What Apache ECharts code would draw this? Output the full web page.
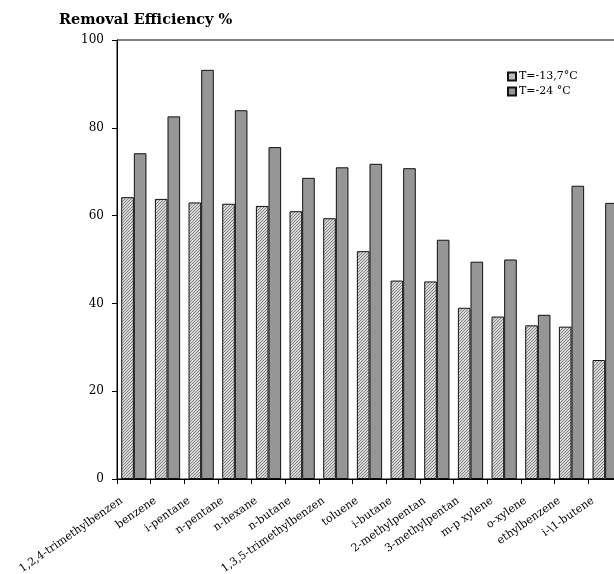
<!DOCTYPE html>
<html>
<head>
<meta charset="utf-8">
<script src="https://cdn.jsdelivr.net/npm/echarts@6/dist/echarts.min.js"></script>
<style>
  html, body { margin: 0; padding: 0; background: #fff; }
  #chart { width: 614px; height: 574px; }
</style>
</head>
<body>
<div id="chart"></div>
<script>
// Compounds on the category axis
var compounds = [
  '1,2,4-trimethylbenzen', 'benzene', 'i-pentane', 'n-pentane', 'n-hexane',
  'n-butane', '1,3,5-trimethylbenzen', 'toluene', 'i-butane', '2-methylpentan',
  '3-methylpentan', 'm-p xylene', 'o-xylene', 'ethylbenzene', 'i-\\1-butene'
];

// Removal efficiency (%) at each temperature
var effWarm = [64.2, 63.8, 63.0, 62.7, 62.2, 61.0, 59.4, 51.9, 45.2, 45.0, 39.0, 37.0, 35.0, 34.7, 27.1];
var effCold = [74.2, 82.6, 93.2, 84.0, 75.6, 68.6, 71.0, 71.8, 70.8, 54.5, 49.5, 50.0, 37.4, 66.8, 62.9];

var seriesNames = ['T=-13,7\u00B0C', 'T=-24 \u00B0C'];
var yTicks = { min: 0, max: 100, step: 20 };

// Diagonal hatch fill for the first series
function hatchPattern() {
  var c = document.createElement('canvas');
  c.width = 3; c.height = 3;
  var g = c.getContext('2d');
  g.fillStyle = '#d6d6d6';
  g.fillRect(0, 0, 3, 3);
  g.fillStyle = '#858585';
  // one-pixel diagonal running bottom-left to top-right
  g.fillRect(0, 2, 1, 1);
  g.fillRect(1, 1, 1, 1);
  g.fillRect(2, 0, 1, 1);
  return { image: c, repeat: 'repeat' };
}

var serif = 'DejaVu Serif';
var chart = echarts.init(document.getElementById('chart'), null, { renderer: 'canvas' });

chart.setOption({
  animation: false,
  backgroundColor: '#ffffff',
  title: {
    text: 'Removal Efficiency %',
    left: 54, top: 8,
    textStyle: { fontFamily: serif, fontWeight: 'bold', fontSize: 14.5, color: '#000' }
  },
  legend: {
    orient: 'vertical',
    left: 502, top: 66,
    itemWidth: 8, itemHeight: 8, itemGap: 4,
    icon: 'rect',
    textStyle: { fontFamily: serif, fontSize: 11, color: '#000', padding: [0, 0, 0, -2] },
    data: seriesNames
  },
  grid: {
    left: 117, top: 40, height: 439, width: 505,
    outerBoundsMode: 'none',
    containLabel: false,
    show: true, borderColor: '#000', borderWidth: 1, backgroundColor: 'transparent'
  },
  xAxis: {
    type: 'category',
    data: compounds,
    axisLine: { lineStyle: { color: '#000', width: 1 } },
    axisTick: { show: true, length: 5, lineStyle: { color: '#000' } },
    axisLabel: {
      interval: 0, rotate: 35, margin: 12,
      padding: [0, 15, 0, 0],
      fontFamily: serif, fontSize: 11, color: '#000'
    }
  },
  yAxis: {
    type: 'value',
    min: yTicks.min, max: yTicks.max, interval: yTicks.step,
    splitLine: { show: false },
    axisLine: { show: true, lineStyle: { color: '#000', width: 1 } },
    axisTick: { show: true, length: 5, lineStyle: { color: '#000' } },
    axisLabel: { margin: 13, fontFamily: serif, fontSize: 12, color: '#000' }
  },
  series: [
    {
      name: seriesNames[0], type: 'bar', data: effWarm,
      barGap: '0%', barCategoryGap: '25%',
      itemStyle: { color: hatchPattern(), borderColor: '#111', borderWidth: 1 }
    },
    {
      name: seriesNames[1], type: 'bar', data: effCold,
      barGap: '0%', barCategoryGap: '25%',
      itemStyle: { color: '#969696', borderColor: '#111', borderWidth: 1 }
    }
  ]
});
</script>
</body>
</html>
